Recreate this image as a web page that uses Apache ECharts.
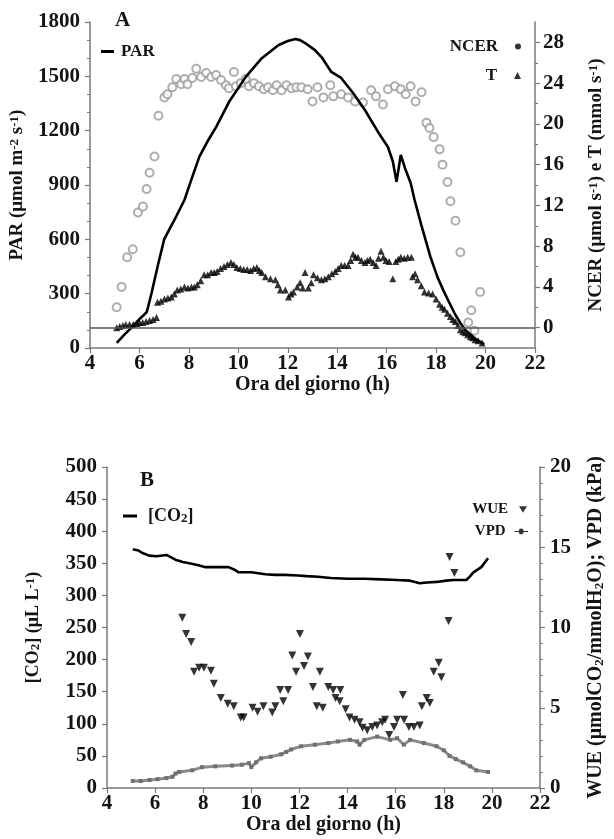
<!DOCTYPE html>
<html>
<head>
<meta charset="utf-8">
<script src="https://cdn.jsdelivr.net/npm/echarts@6/dist/echarts.min.js"></script>
<style>
  html, body { margin: 0; padding: 0; background: #fff; }
  #chart { width: 614px; height: 839px; }
</style>
</head>
<body>
<div id="chart"></div>
<script>
// panel A — PAR (left axis), NCER and T (right axis)
const parHour = [5.08, 5.4, 5.7, 6.0, 6.2, 6.3, 6.49, 6.73, 7.0, 7.21, 7.5, 7.82, 8.1, 8.42, 8.75, 9.1, 9.62, 10.3, 10.95, 11.63, 12.0, 12.31, 12.5, 12.7, 13.1, 13.4, 13.76, 14.16, 14.64, 15.12, 15.65, 16.05, 16.25, 16.4, 16.57, 16.75, 16.97, 17.13, 17.4, 17.77, 18.06, 18.34, 18.74, 18.98, 19.18, 19.54, 19.94]
const parValue = [28, 75, 115, 160, 185, 200, 303, 447, 600, 655, 730, 817, 930, 1055, 1140, 1220, 1358, 1497, 1600, 1673, 1695, 1706, 1700, 1684, 1645, 1600, 1524, 1491, 1408, 1314, 1193, 1110, 1030, 917, 1066, 990, 911, 817, 680, 503, 390, 304, 193, 138, 99, 55, 22]

const ncerHour = [5.08, 5.28, 5.5, 5.73, 5.94, 6.14, 6.29, 6.41, 6.61, 6.77, 7.01, 7.13, 7.33, 7.49, 7.69, 7.82, 7.94, 8.14, 8.3, 8.5, 8.7, 8.9, 9.1, 9.3, 9.5, 9.62, 9.82, 9.9, 10.1, 10.3, 10.43, 10.63, 10.83, 11.03, 11.2, 11.4, 11.55, 11.75, 11.95, 12.15, 12.35, 12.55, 12.8, 13.0, 13.2, 13.44, 13.72, 13.84, 14.16, 14.44, 14.72, 15.04, 15.37, 15.57, 15.85, 16.05, 16.33, 16.57, 16.77, 16.97, 17.17, 17.41, 17.61, 17.73, 17.9, 18.14, 18.26, 18.46, 18.58, 18.78, 18.98, 19.3, 19.42, 19.55, 19.78]
const ncerValue = [2.0, 4.0, 6.9, 7.7, 11.3, 11.9, 13.6, 15.2, 16.8, 20.8, 22.6, 22.9, 23.6, 24.4, 23.9, 24.4, 23.9, 24.5, 25.4, 24.6, 25.0, 24.6, 24.8, 24.3, 23.8, 23.5, 25.1, 23.7, 24.0, 24.4, 23.7, 24.0, 23.7, 23.4, 23.6, 23.3, 23.8, 23.3, 23.8, 23.5, 23.6, 23.6, 23.4, 22.2, 23.6, 22.6, 23.8, 22.7, 22.9, 22.6, 22.2, 22.1, 23.3, 22.7, 21.9, 23.4, 23.7, 23.4, 22.9, 23.7, 22.2, 23.1, 20.1, 19.6, 18.7, 17.5, 16.0, 14.3, 12.4, 10.5, 7.4, 0.5, 1.7, -0.3, 3.5]

const tHour = [5.08, 5.2, 5.33, 5.45, 5.6, 5.75, 5.9, 6.0, 6.13, 6.27, 6.41, 6.55, 6.69, 6.73, 6.87, 7.01, 7.15, 7.29, 7.41, 7.53, 7.67, 7.82, 7.96, 8.1, 8.22, 8.34, 8.48, 8.62, 8.76, 8.9, 9.02, 9.14, 9.28, 9.42, 9.56, 9.7, 9.82, 9.94, 10.08, 10.22, 10.36, 10.5, 10.62, 10.75, 10.85, 10.95, 11.1, 11.3, 11.5, 11.6, 11.7, 11.9, 12.03, 12.13, 12.23, 12.38, 12.5, 12.6, 12.7, 12.83, 12.95, 13.04, 13.2, 13.36, 13.5, 13.64, 13.78, 13.92, 14.04, 14.16, 14.3, 14.44, 14.54, 14.64, 14.74, 14.84, 14.98, 15.12, 15.22, 15.33, 15.45, 15.57, 15.67, 15.77, 15.87, 15.97, 16.1, 16.25, 16.37, 16.47, 16.57, 16.71, 16.85, 17.0, 17.05, 17.15, 17.25, 17.4, 17.53, 17.7, 17.86, 18.0, 18.14, 18.24, 18.34, 18.46, 18.58, 18.68, 18.78, 18.88, 18.98, 19.08, 19.18, 19.28, 19.38, 19.48, 19.58, 19.7, 19.86]
const tValue = [0.0, 0.1, 0.2, 0.3, 0.3, 0.3, 0.4, 0.5, 0.5, 0.6, 0.7, 0.8, 1.0, 2.5, 2.6, 2.8, 2.9, 3.0, 3.3, 3.7, 3.8, 4.0, 3.9, 4.0, 4.0, 4.2, 4.6, 5.2, 5.2, 5.4, 5.4, 5.5, 5.8, 6.0, 6.2, 6.4, 6.2, 5.9, 5.8, 5.7, 5.7, 5.6, 5.8, 5.9, 5.6, 5.4, 5.0, 4.8, 4.7, 4.2, 3.7, 3.7, 3.0, 3.3, 3.5, 4.0, 4.4, 3.9, 5.4, 3.9, 4.4, 5.2, 4.9, 4.7, 4.8, 5.0, 5.3, 5.5, 5.8, 6.1, 6.1, 6.1, 6.6, 7.2, 6.9, 6.9, 6.6, 6.4, 6.6, 6.7, 6.4, 6.1, 6.8, 7.5, 6.9, 6.6, 6.5, 4.8, 6.5, 6.7, 6.9, 6.8, 6.9, 6.9, 5.0, 5.3, 4.7, 4.1, 3.5, 3.4, 3.3, 2.8, 2.3, 2.0, 1.8, 1.4, 1.1, 0.8, 0.6, 0.2, -0.2, -0.4, -0.5, -0.7, -0.9, -1.0, -1.2, -1.3, -1.5]

// panel B — [CO2] (left axis), WUE and VPD (right axis)
const co2Hour = [5.07, 5.3, 5.48, 5.75, 6.06, 6.47, 6.88, 7.15, 7.42, 7.8, 8.1, 8.6, 9.06, 9.3, 9.47, 10.0, 10.58, 11.0, 11.4, 11.94, 12.3, 12.77, 13.3, 14.0, 14.7, 15.4, 16.06, 16.6, 17.0, 17.3, 17.7, 18.1, 18.4, 18.94, 19.1, 19.23, 19.56, 19.84]
const co2Value = [372, 370, 366, 362, 361, 363, 355, 352, 350, 347, 344, 344, 344, 340, 336, 336, 333, 332, 332, 331, 330, 329, 327, 326, 326, 325, 324, 323, 319, 320, 321, 323, 324, 324, 330, 336, 344, 358]

const wueHour = [7.13, 7.29, 7.5, 7.62, 7.83, 8.03, 8.32, 8.44, 8.73, 9.02, 9.27, 9.56, 9.68, 10.05, 10.26, 10.5, 10.87, 11.0, 11.2, 11.33, 11.53, 11.7, 11.86, 12.02, 12.19, 12.35, 12.56, 12.72, 12.85, 12.97, 13.2, 13.4, 13.5, 13.67, 13.7, 13.92, 14.08, 14.29, 14.5, 14.62, 14.82, 15.03, 15.23, 15.44, 15.56, 15.73, 15.93, 16.06, 16.3, 16.35, 16.55, 16.76, 17.0, 17.09, 17.29, 17.42, 17.58, 17.79, 17.9, 18.2, 18.24, 18.44]
const wueValue = [10.6, 9.6, 9.1, 7.25, 7.5, 7.5, 7.3, 6.5, 5.6, 5.25, 5.1, 4.4, 4.4, 5.0, 4.75, 5.1, 4.7, 5.1, 6.1, 5.4, 6.1, 8.25, 7.25, 9.6, 7.6, 8.2, 6.3, 5.1, 7.25, 5.0, 6.3, 6.1, 5.6, 5.4, 6.1, 4.9, 4.4, 4.25, 4.1, 3.75, 3.6, 3.8, 3.9, 4.1, 4.25, 3.3, 3.8, 4.25, 5.8, 4.25, 3.8, 3.8, 3.9, 5.1, 5.6, 5.3, 7.25, 7.8, 6.9, 10.4, 14.4, 13.4]

const vpdHour = [5.07, 5.4, 5.77, 6.1, 6.47, 6.72, 6.85, 7.0, 7.54, 7.95, 8.5, 9.2, 9.6, 9.9, 10.0, 10.2, 10.4, 10.8, 11.24, 11.45, 11.65, 12.07, 12.64, 13.2, 13.6, 14.1, 14.4, 14.5, 14.7, 15.23, 15.77, 16.06, 16.34, 16.6, 17.17, 17.7, 18.0, 18.24, 18.5, 18.8, 19.1, 19.35, 19.84]
const vpdValue = [0.44, 0.44, 0.5, 0.55, 0.62, 0.7, 0.9, 1.0, 1.1, 1.3, 1.35, 1.4, 1.45, 1.55, 1.3, 1.6, 1.85, 1.95, 2.1, 2.25, 2.4, 2.6, 2.7, 2.8, 2.9, 3.0, 2.9, 2.7, 3.0, 3.2, 3.0, 3.1, 2.7, 3.0, 2.8, 2.6, 2.35, 2.0, 1.8, 1.6, 1.35, 1.1, 1.0]

const rightTicksA = [0, 4, 8, 12, 16, 20, 24, 28]
const rightMinorA = [2, 6, 10, 14, 18, 22, 26]

const pairs = (xs, ys) => xs.map((x, i) => [x, ys[i]])

const FONT = 'Liberation Serif'
const INK = '#141414'
const AXIS = '#7a7a7a'
const txt = (size) => ({ fontFamily: FONT, fontWeight: 'bold', fontSize: size, color: INK })
const plain = (v) => String(v)

const chart = echarts.init(document.getElementById('chart'), null, { renderer: 'canvas' })

const hourAxis = (gridIndex) => ({
  type: 'value',
  gridIndex,
  min: 4,
  max: 22,
  interval: 2,
  name: 'Ora del giorno (h)',
  nameLocation: 'middle',
  nameGap: 27,
  nameTextStyle: txt(20),
  axisLine: { lineStyle: { color: AXIS, width: 1.5 } },
  axisTick: { length: 5, lineStyle: { color: AXIS, width: 1.2 } },
  axisLabel: { ...txt(21), margin: 5, formatter: plain },
  splitLine: { show: false }
})

const valueAxis = (extra) => ({
  type: 'value',
  axisLine: { show: true, lineStyle: { color: AXIS, width: 1.5 } },
  axisTick: { show: true, length: 5, lineStyle: { color: AXIS, width: 1.2 } },
  axisLabel: { ...txt(21), margin: 10, formatter: plain },
  splitLine: { show: false },
  nameLocation: 'middle',
  nameRotate: 90,
  ...extra
})

const supRich = {
  s: { fontFamily: FONT, fontWeight: 'bold', fontSize: 13, color: INK, verticalAlign: 'top' },
  d: { fontFamily: FONT, fontWeight: 'bold', fontSize: 13, color: INK, verticalAlign: 'bottom' }
}

const option = {
  animation: false,
  backgroundColor: '#fff',
  title: [
    { text: 'A', left: 110, top: 5, textStyle: txt(21) },
    { text: 'B', left: 135, top: 465, textStyle: txt(21) }
  ],
  legend: [
    {
      left: 96, top: 38, itemWidth: 13, itemHeight: 3, itemGap: 4,
      data: [{ name: 'PAR', icon: 'rect', itemStyle: { color: '#000' } }],
      textStyle: { ...txt(17), padding: [0, 0, 0, 2] }
    },
    {
      right: 88, top: 33, align: 'right', itemWidth: 6, itemHeight: 6,
      data: [{ name: 'NCER', icon: 'circle', itemStyle: { color: '#000', borderWidth: 0 } }],
      textStyle: { ...txt(17), padding: [0, 12, 0, 0] }
    },
    {
      right: 88, top: 62, align: 'right', itemWidth: 7, itemHeight: 7,
      data: [{ name: 'T', icon: 'triangle', itemStyle: { color: '#000' } }],
      textStyle: { ...txt(17), padding: [0, 12, 0, 0] }
    },
    {
      left: 118, top: 502, itemWidth: 14, itemHeight: 3,
      data: [{ name: '[CO2]', icon: 'rect', itemStyle: { color: '#000' } }],
      formatter: () => '[CO{d|2}]',
      textStyle: { ...txt(18), padding: [0, 0, 0, 6], rich: supRich }
    },
    {
      right: 82, top: 497, align: 'right', itemWidth: 8, itemHeight: 7,
      data: [{ name: 'WUE', icon: 'path://M0,0L10,0L5,8Z', itemStyle: { color: '#000' } }],
      textStyle: { ...txt(15), padding: [0, 6, 0, 0] }
    },
    {
      right: 81, top: 519, align: 'right', itemWidth: 17, itemHeight: 6,
      data: [{ name: 'VPD', icon: 'path://M0,2.5h5.5a2.5,2.5 0 1 1 6,0h5.5v1.5h-5.5a2.5,2.5 0 1 1 -6,0h-5.5z', itemStyle: { color: '#333' } }],
      textStyle: { ...txt(15), padding: [0, 2, 0, 0] }
    }
  ],
  grid: [
    { left: 90, top: 22, width: 448, height: 326 },
    { left: 107, top: 467, width: 438, height: 321 }
  ],
  xAxis: [hourAxis(0), hourAxis(1)],
  yAxis: [
    valueAxis({
      gridIndex: 0, position: 'left', min: 0, max: 1800, interval: 300,
      minorTick: { show: true, splitNumber: 3, length: 3, lineStyle: { color: AXIS } },
      name: 'PAR (μmol m{s|-2} s{s|-1})', nameGap: 63,
      nameTextStyle: { ...txt(19), rich: supRich }
    }),
    valueAxis({
      gridIndex: 0, position: 'right', min: -2, max: 30,
      axisLabel: { ...txt(21), margin: 8, formatter: plain, customValues: rightTicksA },
      axisTick: { show: true, length: 5, customValues: rightTicksA, lineStyle: { color: AXIS, width: 1.2 } },
      name: 'NCER (μmol s{s|-1}) e T (mmol s{s|-1})', nameGap: 52,
      nameTextStyle: { ...txt(19), rich: supRich }
    }),
    valueAxis({
      gridIndex: 0, position: 'right', min: -2, max: 30,
      axisLine: { show: false },
      axisLabel: { show: false, customValues: [] },
      axisTick: { show: true, length: 3, customValues: rightMinorA, lineStyle: { color: AXIS } }
    }),
    valueAxis({
      gridIndex: 1, position: 'left', min: 0, max: 500, interval: 50,
      name: '[CO{d|2}] (μL L{s|-1})', nameGap: 65,
      nameTextStyle: { ...txt(18), rich: supRich }
    }),
    valueAxis({
      gridIndex: 1, position: 'right', min: 0, max: 20, interval: 5,
      minorTick: { show: true, splitNumber: 5, length: 3, lineStyle: { color: AXIS } },
      name: 'WUE (μmolCO{d|2}/mmolH{d|2}O); VPD (kPa)', nameGap: 46,
      nameTextStyle: { ...txt(20), rich: supRich }
    })
  ],
  series: [
    {
      name: 'NCER', type: 'scatter', xAxisIndex: 0, yAxisIndex: 1,
      symbol: 'emptyCircle', symbolSize: 8,
      itemStyle: { color: '#9a9a9a', borderColor: '#9a9a9a', borderWidth: 1.3 },
      data: pairs(ncerHour, ncerValue), z: 2
    },
    {
      name: 'PAR', type: 'line', xAxisIndex: 0, yAxisIndex: 0,
      showSymbol: false, symbol: 'none',
      lineStyle: { color: '#000', width: 2.6 },
      itemStyle: { color: '#000' },
      data: pairs(parHour, parValue), z: 3
    },
    {
      name: 'T', type: 'scatter', xAxisIndex: 0, yAxisIndex: 1,
      symbol: 'triangle', symbolSize: 7,
      itemStyle: { color: '#000' },
      data: pairs(tHour, tValue), z: 4,
      markLine: {
        silent: true, symbol: ['none', 'none'], label: { show: false },
        lineStyle: { color: '#555', type: 'solid', width: 1.6 },
        data: [{ yAxis: 0 }]
      }
    },
    {
      name: '[CO2]', type: 'line', xAxisIndex: 1, yAxisIndex: 3,
      showSymbol: false, symbol: 'none',
      lineStyle: { color: '#000', width: 2.6 },
      itemStyle: { color: '#000' },
      data: pairs(co2Hour, co2Value)
    },
    {
      name: 'VPD', type: 'line', xAxisIndex: 1, yAxisIndex: 4,
      symbol: 'rect', symbolSize: 4, showSymbol: true,
      lineStyle: { color: '#8a8a8a', width: 3 },
      itemStyle: { color: '#707070' },
      data: pairs(vpdHour, vpdValue)
    },
    {
      name: 'WUE', type: 'scatter', xAxisIndex: 1, yAxisIndex: 4,
      symbol: 'triangle', symbolRotate: 180, symbolSize: 8,
      itemStyle: { color: '#000' },
      data: pairs(wueHour, wueValue)
    }
  ]
}

chart.setOption(option)
</script>
</body>
</html>
